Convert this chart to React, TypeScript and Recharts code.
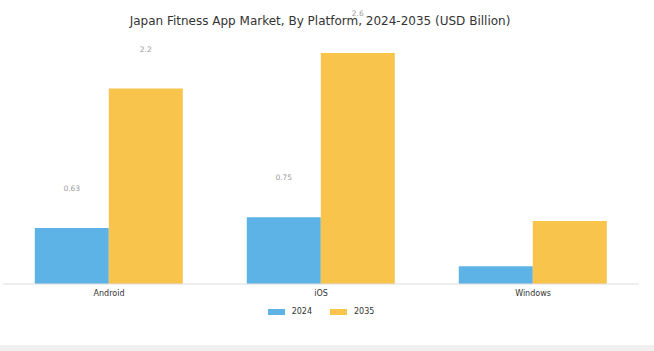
import { BarChart, Bar, XAxis, YAxis, Legend, LabelList } from 'recharts';

const platforms = ['Android', 'iOS', 'Windows'];
const values2024 = [0.63, 0.75, 0.2];
const values2035 = [2.2, 2.6, 0.71];
// only these platforms carry value labels in the original
const labelled = ['Android', 'iOS'];

const data = platforms.map((p, i) => ({ name: p, y2024: values2024[i], y2035: values2035[i] }));

const FONT = '"DejaVu Sans", sans-serif';

const renderValue = (props: any) => {
    const { x, y, width, value, index } = props;
    if (!labelled.includes(platforms[index])) return null;
    return (
        <text x={x + width / 2} y={y - 37} textAnchor="middle" fontSize={7.5} fill="#999" fontFamily={FONT}>
            {value}
        </text>
    );
};

const renderLegend = (props: any) => {
    const { payload } = props;
    return (
        <div
            style={{
                display: 'flex',
                justifyContent: 'center',
                gap: 18,
                paddingTop: 3,
                fontFamily: FONT,
                fontSize: 8,
                color: '#333',
            }}
        >
            {payload.map((item: any, i: number) => (
                <div key={i} style={{ display: 'flex', alignItems: 'center', gap: 7 }}>
                    <div style={{ width: 17, height: 6, backgroundColor: item.color }}></div>
                    {item.value}
                </div>
            ))}
        </div>
    );
};

export default function App() {
    return (
        <div style={{ position: 'absolute', left: 0, top: 0, width: 654, height: 351, background: '#fff' }}>
            <div
                style={{
                    position: 'absolute',
                    top: 14,
                    left: 0,
                    width: 640,
                    textAlign: 'center',
                    fontFamily: FONT,
                    fontSize: 12,
                    color: '#333',
                }}
            >
                Japan Fitness App Market, By Platform, 2024-2035 (USD Billion)
            </div>
            <div style={{ position: 'absolute', left: 0, top: 345, width: 654, height: 6, background: '#f0f0f0' }}></div>
            <div style={{ position: 'absolute', left: 0, top: 0 }}>
                <BarChart
                    width={654}
                    height={351}
                    data={data}
                    margin={{ top: 53, right: 15, left: 3, bottom: 27 }}
                    barCategoryGap="15%"
                    barGap={0}
                >
                    <XAxis
                        dataKey="name"
                        height={20}
                        tickLine={false}
                        axisLine={{ stroke: '#ddd' }}
                        tick={{ fill: '#333', fontSize: 8, fontFamily: FONT, dy: -2 }}
                    />
                    <YAxis hide domain={[0, 2.6]} />
                    <Legend height={20} content={renderLegend} />
                    <Bar dataKey="y2024" name="2024" fill="#5db3e6" isAnimationActive={false}>
                        <LabelList dataKey="y2024" content={renderValue} />
                    </Bar>
                    <Bar dataKey="y2035" name="2035" fill="#f8c44c" isAnimationActive={false}>
                        <LabelList dataKey="y2035" content={renderValue} />
                    </Bar>
                </BarChart>
            </div>
        </div>
    );
}
